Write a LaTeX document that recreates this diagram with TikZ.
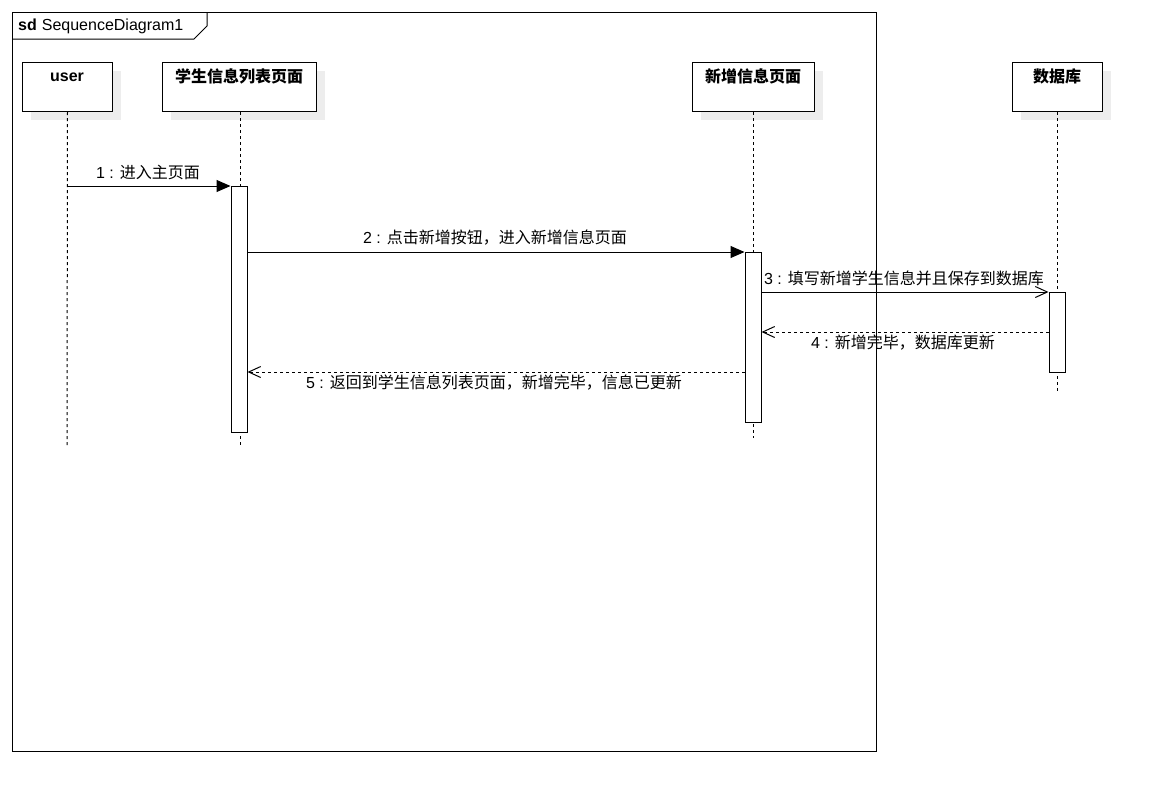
\documentclass[tikz,border=0pt]{standalone}
\usepackage{fontspec}
\setmainfont{Liberation Sans}
\newfontfamily\cjk{Noto Sans CJK SC}
\usetikzlibrary{arrows.meta}
\tikzset{
  head/.style={draw, line width=1pt, fill=white, minimum height=49pt, inner sep=0pt, anchor=north west},
  shadowbox/.style={fill=black!7, draw=none},
  headtext/.style={font=\fontsize{16}{19}\selectfont\cjk\bfseries, inner sep=0pt},
  act/.style={draw, line width=1pt, fill=white, minimum width=16pt, inner sep=0pt, anchor=north},
  lifeline/.style={line width=1pt, dash pattern=on 3pt off 3pt},
  lbl/.style={font=\fontsize{16}{19}\selectfont, inner sep=0pt},
  sync/.style={line width=1pt, -{Triangle[length=14pt,width=12pt]}},
  async/.style={line width=1pt, -{Straight Barb[length=12pt,width=11pt]}},
  reply/.style={line width=1pt, dash pattern=on 3pt off 3pt, -{Straight Barb[length=12pt,width=11pt]}},
}
\begin{document}
\begin{tikzpicture}[x=1pt,y=-1pt]
\useasboundingbox (0,0) rectangle (1151,801);
% frame
\draw[line width=1pt] (12,12) rectangle (876,751);
\draw[line width=1pt] (12,39) -- (194,39) -- (207,26) -- (207,12);
\node[anchor=west, inner sep=0pt, font=\fontsize{16}{19}\selectfont] (title) at (18,26) {\textbf{sd}\hspace{5pt}SequenceDiagram1};
% shadows
\fill[shadowbox] (31,71) rectangle (121,120);
\fill[shadowbox] (171,71) rectangle (325,120);
\fill[shadowbox] (701,71) rectangle (823,120);
\fill[shadowbox] (1021,71) rectangle (1111,120);
% heads
\node[head, minimum width=90pt] (user) at (22,62) {};
\node[head, minimum width=154pt] (list) at (162,62) {};
\node[head, minimum width=122pt] (add) at (692,62) {};
\node[head, minimum width=90pt] (db) at (1012,62) {};
\node[headtext, font=\fontsize{16}{19}\selectfont\bfseries] (userT) at (67,77) {user};
\node[headtext] (listT) at (239,76) {学生信息列表页面};
\node[headtext] (addT) at (753,76) {新增信息页面};
\node[headtext] (dbT) at (1057,76) {数据库};
% lifeline ends
\coordinate (userE) at (67,445);
\coordinate (listE) at (240,445);
\coordinate (addE) at (753,438);
\coordinate (dbE) at (1057,392);
\draw[lifeline] (user.south) -- (userE);
\draw[lifeline] (list.south -| listE) -- (listE);
\draw[lifeline] (add.south -| addE) -- (addE);
\draw[lifeline] (db.south -| dbE) -- (dbE);
% activations
\node[act, minimum height=246pt] (a1) at (239,186) {};
\node[act, minimum height=170pt] (a2) at (753,252) {};
\node[act, minimum height=80pt] (a3) at (1057,292) {};
% message anchor points
\coordinate (m1s) at (67,186);
\coordinate (y4) at (0,332);
\coordinate (y5) at (0,372);
% messages
\draw[sync] (m1s) -- (a1.north west);
\node[lbl] (l1) at (148,172) {1 : {\cjk 进入主页面}};
\draw[sync] (a1.east |- a2.north) -- (a2.north west);
\node[lbl] (l2) at (495,238) {2 : {\cjk 点击新增按钮，进入新增信息页面}};
\draw[async] (a2.east |- a3.north) -- (a3.north west);
\node[lbl] (l3) at (904,278) {3 : {\cjk 填写新增学生信息并且保存到数据库}};
\draw[reply] (a3.west |- y4) -- (a2.east |- y4);
\node[lbl] (l4) at (903,343) {4 : {\cjk 新增完毕，数据库更新}};
\draw[reply] (a2.west |- y5) -- (a1.east |- y5);
\node[lbl] (l5) at (494,383) {5 : {\cjk 返回到学生信息列表页面，新增完毕，信息已更新}};
\end{tikzpicture}
\end{document}
